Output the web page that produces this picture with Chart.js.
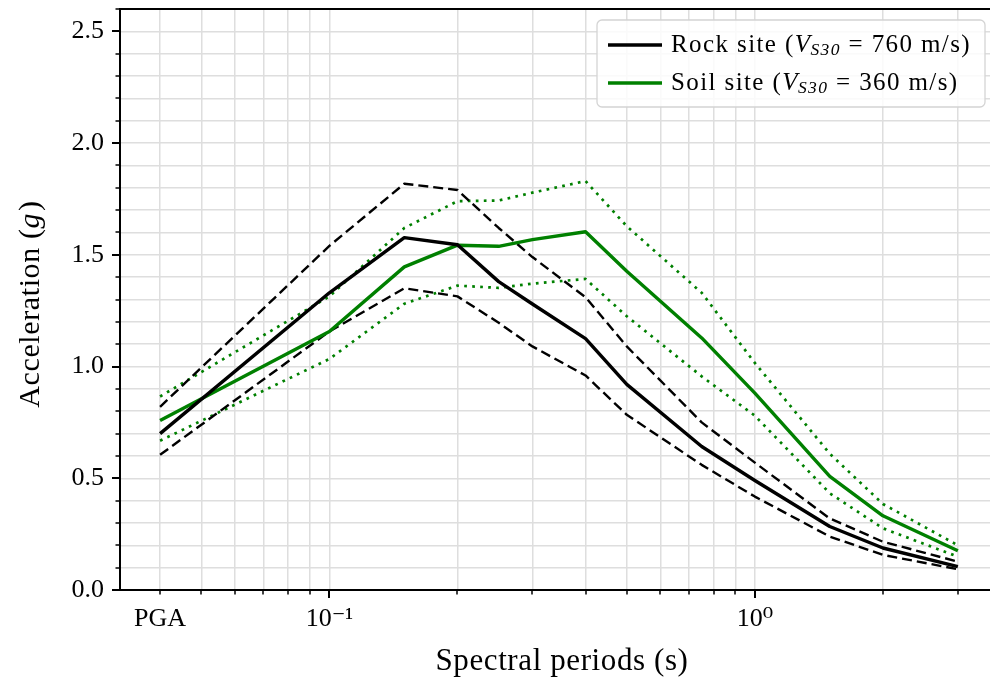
<!DOCTYPE html>
<html>
<head>
<meta charset="utf-8">
<script src="https://cdn.jsdelivr.net/npm/chart.js@4.4.1/dist/chart.umd.min.js"></script>
<style>
    html, body { margin: 0; padding: 0; background: #fff; }
    #wrap { width: 990px; height: 682px; }
</style>
</head>
<body>
<div id="wrap"><canvas id="spectraChart" width="990" height="682"></canvas></div>
<script>
        // Spectral periods (s); PGA is plotted at 0.04 s
        const periods = [0.04, 0.1, 0.15, 0.2, 0.25, 0.3, 0.4, 0.5, 0.75, 1.0, 1.5, 2.0, 3.0];

        // Rock site (Vs30 = 760 m/s): median and +/- bounds
        const rockMedian = [0.70, 1.33, 1.577, 1.545, 1.38, 1.28, 1.125, 0.92, 0.642, 0.49, 0.284, 0.188, 0.105];
        const rockUpper  = [0.82, 1.54, 1.818, 1.79, 1.62, 1.49, 1.31, 1.09, 0.75, 0.57, 0.32, 0.216, 0.127];
        const rockLower  = [0.605, 1.157, 1.35, 1.314, 1.196, 1.09, 0.96, 0.784, 0.56, 0.418, 0.239, 0.157, 0.093];

        // Soil site (Vs30 = 360 m/s): median and +/- bounds
        const soilMedian = [0.758, 1.157, 1.446, 1.543, 1.538, 1.568, 1.603, 1.426, 1.128, 0.881, 0.508, 0.332, 0.176];
        const soilUpper  = [0.866, 1.314, 1.62, 1.74, 1.743, 1.778, 1.83, 1.628, 1.33, 1.016, 0.61, 0.385, 0.20];
        const soilLower  = [0.668, 1.034, 1.281, 1.362, 1.352, 1.371, 1.392, 1.225, 0.956, 0.78, 0.433, 0.276, 0.149];

        // Axis ticks
        const xTickValues = [0.04, 0.05, 0.06, 0.07, 0.08, 0.09, 0.1, 0.2, 0.3, 0.4, 0.5, 0.6, 0.7, 0.8, 0.9, 1, 2, 3];
        const xMajorTicks = [0.1, 1];
        const xTickLabels = { 0.04: 'PGA', 0.1: '10\u207B\u00B9', 1: '10\u2070' };
        const yTickLabels = ['0.0', '0.5', '1.0', '1.5', '2.0', '2.5'];

        const legendItems = [
            { color: '#000000', pre: 'Rock site (', post: ' = 760 m/s)' },
            { color: '#008000', pre: 'Soil site (', post: ' = 360 m/s)' }
        ];

        const SERIF = '"Liberation Serif", "DejaVu Serif", serif';
        const GREEN = '#008000';

        function toPoints(values) {
            return values.map((v, i) => ({ x: periods[i], y: v }));
        }

        function lineSet(values, color, style) {
            const ds = {
                data: toPoints(values),
                borderColor: color,
                backgroundColor: color,
                pointRadius: 0,
                tension: 0,
                fill: false,
                borderCapStyle: 'butt',
                borderJoinStyle: 'round'
            };
            if (style === 'solid') {
                ds.borderWidth = 3.4;
            } else if (style === 'dashed') {
                ds.borderWidth = 2.4;
                ds.borderDash = [10, 5];
            } else {
                ds.borderWidth = 2.7;
                ds.borderDash = [2.7, 5.3];
            }
            return ds;
        }

        // Draws a run of text pieces (normal / italic / subscript) starting at x
        function drawRich(ctx, parts, x, y, size) {
            parts.forEach(p => {
                const fs = p.sub ? size * 0.7 : size;
                ctx.font = (p.it ? 'italic ' : '') + fs + 'px ' + SERIF;
                ctx.fillText(p.t, x, y + (p.sub ? size * 0.22 : 0));
                x += ctx.measureText(p.t).width + (p.gap || 0);
            });
            return x;
        }

        function richWidth(ctx, parts, size) {
            let w = 0;
            parts.forEach(p => {
                const fs = p.sub ? size * 0.7 : size;
                ctx.font = (p.it ? 'italic ' : '') + fs + 'px ' + SERIF;
                w += ctx.measureText(p.t).width + (p.gap || 0);
            });
            return w;
        }

        // Tick marks, frame, axis titles and legend box
        const decorPlugin = {
            id: 'decor',
            afterDraw(chart) {
                const ctx = chart.ctx;
                const area = chart.chartArea;
                const xs = chart.scales.x;
                const ys = chart.scales.y;
                ctx.save();

                // spines: left, bottom, top
                ctx.strokeStyle = '#000';
                ctx.lineWidth = 2;
                ctx.beginPath();
                ctx.moveTo(chart.width, area.top);
                ctx.lineTo(area.left, area.top);
                ctx.lineTo(area.left, area.bottom);
                ctx.lineTo(chart.width, area.bottom);
                ctx.stroke();

                // x tick marks
                xTickValues.forEach(v => {
                    const px = Math.round(xs.getPixelForValue(v));
                    const major = xMajorTicks.includes(v);
                    ctx.lineWidth = major ? 2 : 1.5;
                    ctx.beginPath();
                    ctx.moveTo(px, area.bottom);
                    ctx.lineTo(px, area.bottom + (major ? 8 : 4.5));
                    ctx.stroke();
                });

                // y tick marks, every 0.1
                for (let i = 0; i <= 26; i++) {
                    const py = Math.round(ys.getPixelForValue(i / 10));
                    const major = i % 5 === 0;
                    ctx.lineWidth = major ? 2 : 1.5;
                    ctx.beginPath();
                    ctx.moveTo(area.left, py);
                    ctx.lineTo(area.left - (major ? 8 : 4.5), py);
                    ctx.stroke();
                }

                ctx.fillStyle = '#000';
                ctx.textBaseline = 'middle';
                ctx.letterSpacing = '0.6px';

                // x axis title
                ctx.textAlign = 'center';
                ctx.font = '31px ' + SERIF;
                ctx.fillText('Spectral periods (s)', 562, 662);

                // y axis title with italic g
                ctx.textAlign = 'left';
                const tsize = 30;
                const yParts = [{ t: 'Acceleration (' }, { t: 'g', it: true, gap: 2 }, { t: ')' }];
                const tw = richWidth(ctx, yParts, tsize);
                ctx.translate(31, 304);
                ctx.rotate(-Math.PI / 2);
                drawRich(ctx, yParts, -tw / 2, 0, tsize);
                ctx.setTransform(1, 0, 0, 1, 0, 0);

                // legend
                ctx.letterSpacing = '1.4px';
                const bx = 597, by = 20, bw = 388, bh = 87;
                ctx.beginPath();
                ctx.roundRect(bx, by, bw, bh, 5);
                ctx.fillStyle = 'rgba(255,255,255,0.85)';
                ctx.fill();
                ctx.strokeStyle = '#d4d4d4';
                ctx.lineWidth = 1.3;
                ctx.stroke();

                legendItems.forEach((item, i) => {
                    const ly = 45 + i * 38;
                    ctx.strokeStyle = item.color;
                    ctx.lineWidth = 3.4;
                    ctx.beginPath();
                    ctx.moveTo(608, ly);
                    ctx.lineTo(662, ly);
                    ctx.stroke();
                    ctx.fillStyle = '#000';
                    drawRich(ctx, [
                        { t: item.pre },
                        { t: 'V', it: true, gap: -1 },
                        { t: 'S30', it: true, sub: true },
                        { t: item.post }
                    ], 671, ly, 25);
                });
                ctx.restore();
            }
        };

        const gridColor = '#dedede';

        new Chart(document.getElementById('spectraChart'), {
            type: 'line',
            data: {
                datasets: [
                    lineSet(rockMedian, '#000000', 'solid'),
                    lineSet(soilMedian, GREEN, 'solid'),
                    lineSet(rockUpper, '#000000', 'dashed'),
                    lineSet(rockLower, '#000000', 'dashed'),
                    lineSet(soilUpper, GREEN, 'dotted'),
                    lineSet(soilLower, GREEN, 'dotted')
                ]
            },
            options: {
                responsive: false,
                animation: false,
                layout: { padding: { top: 9, right: 0, left: 0, bottom: 0 } },
                plugins: {
                    legend: { display: false },
                    tooltip: { enabled: false }
                },
                scales: {
                    x: {
                        type: 'logarithmic',
                        min: 0.0322,
                        max: 3.57,
                        afterBuildTicks: scale => {
                            scale.ticks = xTickValues.map(v => ({ value: v }));
                        },
                        afterFit: scale => {
                            scale.height = 92;
                            scale.paddingLeft = 0;
                            scale.paddingRight = 0;
                        },
                        grid: { color: gridColor, lineWidth: 1.5, drawTicks: false },
                        border: { display: false },
                        ticks: {
                            autoSkip: false,
                            maxRotation: 0,
                            padding: 14,
                            color: '#000',
                            font: { family: SERIF, size: 26 },
                            callback: value => xTickLabels[value] || ''
                        }
                    },
                    y: {
                        min: 0,
                        max: 2.6,
                        afterBuildTicks: scale => {
                            const t = [];
                            for (let i = 0; i <= 26; i++) t.push({ value: i / 10 });
                            scale.ticks = t;
                        },
                        afterFit: scale => {
                            scale.width = 120;
                            scale.paddingTop = 0;
                            scale.paddingBottom = 0;
                        },
                        grid: { color: gridColor, lineWidth: 1.5, drawTicks: false },
                        border: { display: false },
                        ticks: {
                            autoSkip: false,
                            padding: 16,
                            color: '#000',
                            font: { family: SERIF, size: 26 },
                            callback: value => {
                                const k = Math.round(value * 10);
                                return k % 5 === 0 ? yTickLabels[k / 5] : '';
                            }
                        }
                    }
                }
            },
            plugins: [decorPlugin]
        });
</script>
</body>
</html>
